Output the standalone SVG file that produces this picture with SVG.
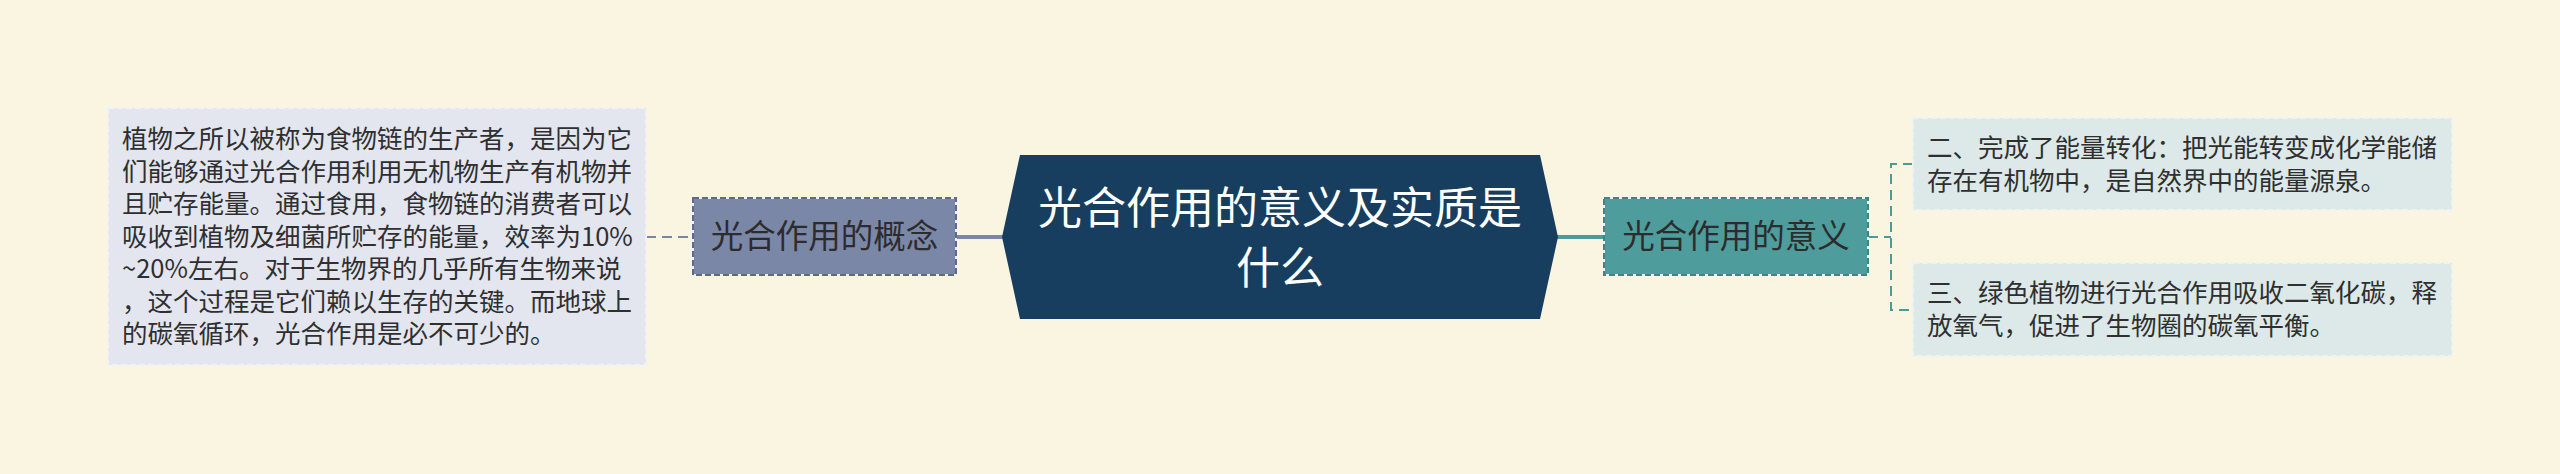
<svg xmlns="http://www.w3.org/2000/svg" width="2560" height="474" viewBox="0 0 2560 474">
<style>
  .t { font-family: "Noto Sans CJK SC", "Noto Sans", sans-serif; }
  .body { font-size: 25.5px; fill: #2f2f2f; }
  .mid { font-size: 32.5px; fill: #2c2c2c; text-anchor: middle; }
  .root { font-size: 44px; fill: #ffffff; text-anchor: middle; }
  .lbox { fill: #e3e6ef; stroke: #f2f2f4; stroke-width: 2; stroke-dasharray: 6 3; }
  .rbox { fill: #dce9e8; stroke: #eef3f1; stroke-width: 2; stroke-dasharray: 6 3; }
  .gap { fill: none; stroke: #eef0f2; stroke-width: 2; }
</style>
<rect x="0" y="0" width="2560" height="474" fill="#faf5e0"/>

<g id="connectors" fill="none">
  <line x1="646" y1="237" x2="693" y2="237" stroke="#7a86a6" stroke-width="2" stroke-dasharray="10 6"/>
  <line x1="956" y1="237" x2="1003" y2="237" stroke="#7a86a6" stroke-width="4"/>
  <line x1="1557" y1="237" x2="1604" y2="237" stroke="#4c9a9a" stroke-width="4"/>
  <path d="M1868 237 H1891 M1913 164 H1891 V310 H1913" stroke="#4c9a9a" stroke-width="2" stroke-dasharray="10 6"/>
</g>

<g id="root">
  <polygon points="1020,155 1540,155 1558,237 1540,319 1020,319 1002,237" fill="#173e5e"/>
  <text class="t root" x="1280" y="224">光合作用的意义及实质是</text>
  <text class="t root" x="1280" y="284">什么</text>
</g>

<g id="concept">
  <rect x="693" y="198" width="263" height="77" fill="#7b87a7"/>
  <rect class="gap" x="693" y="198" width="263" height="77"/>
  <rect x="693" y="198" width="263" height="77" fill="none" stroke="#5e6a88" stroke-width="2" stroke-dasharray="6 3"/>
  <text class="t mid" x="824.5" y="248">光合作用的概念</text>
</g>

<g id="concept-detail">
  <rect class="lbox" x="108" y="108" width="538" height="257"/>
  <text class="t body">
    <tspan x="122" y="148">植物之所以被称为食物链的生产者，是因为它</tspan>
    <tspan x="122" y="180.5">们能够通过光合作用利用无机物生产有机物并</tspan>
    <tspan x="122" y="213">且贮存能量。通过食用，食物链的消费者可以</tspan>
    <tspan x="122" y="245.5">吸收到植物及细菌所贮存的能量，效率为10%</tspan>
    <tspan x="122" y="278">~20%左右。对于生物界的几乎所有生物来说</tspan>
    <tspan x="122" y="310.5">，这个过程是它们赖以生存的关键。而地球上</tspan>
    <tspan x="122" y="343">的碳氧循环，光合作用是必不可少的。</tspan>
  </text>
</g>

<g id="meaning">
  <rect x="1604" y="198" width="264" height="77" fill="#4e9c9c"/>
  <rect class="gap" x="1604" y="198" width="264" height="77"/>
  <rect x="1604" y="198" width="264" height="77" fill="none" stroke="#3b8686" stroke-width="2" stroke-dasharray="6 3"/>
  <text class="t mid" x="1736" y="248">光合作用的意义</text>
</g>

<g id="meaning-2">
  <rect class="rbox" x="1913" y="118" width="539" height="92"/>
  <text class="t body">
    <tspan x="1927" y="157">二、完成了能量转化：把光能转变成化学能储</tspan>
    <tspan x="1927" y="190">存在有机物中，是自然界中的能量源泉。</tspan>
  </text>
</g>

<g id="meaning-3">
  <rect class="rbox" x="1913" y="263" width="539" height="93"/>
  <text class="t body">
    <tspan x="1927" y="302">三、绿色植物进行光合作用吸收二氧化碳，释</tspan>
    <tspan x="1927" y="335">放氧气，促进了生物圈的碳氧平衡。</tspan>
  </text>
</g>
</svg>
